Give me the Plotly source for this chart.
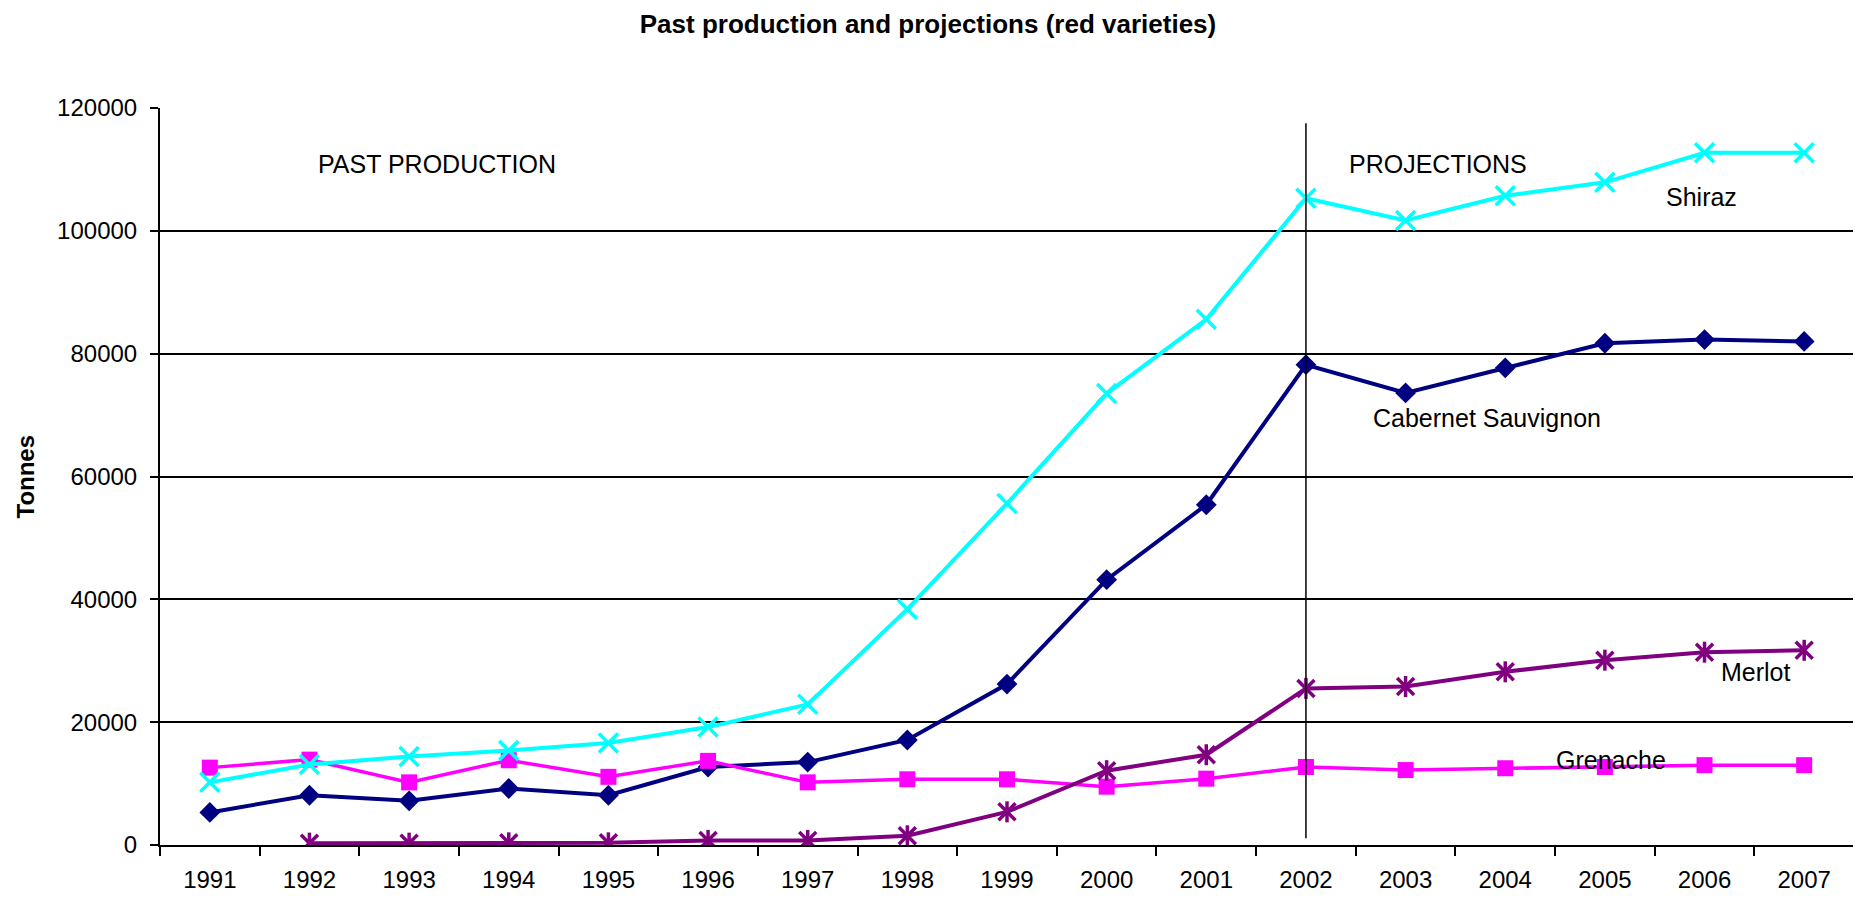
import plotly.graph_objects as go

years = ["1991", "1992", "1993", "1994", "1995", "1996", "1997", "1998", "1999",
         "2000", "2001", "2002", "2003", "2004", "2005", "2006", "2007"]
cabernet = [5300, 8100, 7200, 9200, 8100, 12700, 13500, 17100, 26200, 43200, 55400,
            78200, 73600, 77700, 81700, 82300, 82000]
grenache = [12600, 13900, 10200, 13800, 11100, 13700, 10200, 10700, 10700, 9500, 10800,
            12700, 12200, 12500, 12700, 13000, 13000]
merlot = [None, 300, 300, 350, 350, 750, 750, 1500, 5400, 12100, 14700,
          25500, 25800, 28200, 30100, 31400, 31700]
shiraz = [10200, 13100, 14400, 15400, 16600, 19200, 22900, 38400, 55600, 73500, 85600,
          105300, 101700, 105700, 107900, 112700, 112700]
y_ticks = [0, 20000, 40000, 60000, 80000, 100000, 120000]
projection_start = "2002"

FONT = "Liberation Sans, Arial, sans-serif"
OFF = 8  # default page body margin
W, H = 1861 - OFF, 900 - OFF
# plot area in screen pixels
SL, SR, ST, SB = 160, 1854, 108, 845
L, R, T, B = SL - OFF, SR - OFF, ST - OFF, SB - OFF

fig = go.Figure()
fig.add_trace(go.Scatter(x=years, y=cabernet, mode="lines+markers", name="Cabernet Sauvignon",
                         line=dict(color="#000080", width=4),
                         marker=dict(symbol="diamond", size=16, color="#000080")))
fig.add_trace(go.Scatter(x=years, y=grenache, mode="lines+markers", name="Grenache",
                         line=dict(color="#FF00FF", width=3.5),
                         marker=dict(symbol="square", size=16, color="#FF00FF")))
fig.add_trace(go.Scatter(x=years, y=merlot, mode="lines+markers", name="Merlot",
                         line=dict(color="#800080", width=4),
                         marker=dict(symbol="x-thin", size=17, color="#800080",
                                     line=dict(color="#800080", width=3.5))))
fig.add_trace(go.Scatter(x=years, y=merlot, mode="markers", name="Merlot", hoverinfo="skip",
                         marker=dict(symbol="line-ns", size=15, color="#800080",
                                     line=dict(color="#800080", width=3.5))))
fig.add_trace(go.Scatter(x=years, y=shiraz, mode="lines+markers", name="Shiraz",
                         line=dict(color="#00FFFF", width=4),
                         marker=dict(symbol="x-thin", size=19, color="#00FFFF",
                                     line=dict(color="#00FFFF", width=3.5))))

# divider between past production and projections (category index on the x axis)
pidx = years.index(projection_start)
fig.add_shape(type="line", xref="x", yref="y", x0=pidx, x1=pidx, y0=1100, y1=117500,
              line=dict(color="black", width=1.5))


def px(xs):
    return (xs - SL) / (SR - SL)


def py(ys):
    return (SB - ys) / (SB - ST)


labels = [
    ("PAST PRODUCTION", 437, 164),
    ("PROJECTIONS", 1438, 164),
    ("Shiraz", 1701, 197),
    ("Cabernet Sauvignon", 1487, 418),
    ("Merlot", 1756, 672),
    ("Grenache", 1611, 760),
]
for text, xx, yy in labels:
    fig.add_annotation(text=text, xref="paper", yref="paper", x=px(xx), y=py(yy),
                       xanchor="center", yanchor="middle", showarrow=False,
                       font=dict(family=FONT, size=25, color="black"))

fig.add_annotation(text="<b>Tonnes</b>", xref="paper", yref="paper", x=px(25), y=0.5,
                   xanchor="center", yanchor="middle", textangle=-90, showarrow=False,
                   font=dict(family=FONT, size=24, color="black"))

fig.update_layout(
    width=W, height=H,
    margin=dict(l=L, r=W - R, t=T, b=H - B, pad=0, autoexpand=False),
    paper_bgcolor="white", plot_bgcolor="white",
    showlegend=False,
    font=dict(family=FONT, size=24, color="black"),
    title=dict(text="<b>Past production and projections (red varieties)</b>",
               x=(928 - OFF) / W, xref="container", xanchor="center",
               y=1 - 16 / H, yref="container", yanchor="middle",
               font=dict(family=FONT, size=26, color="black")),
)
fig.update_xaxes(type="category", categoryorder="array", categoryarray=years,
                 range=[-0.5, len(years) - 0.5], automargin=False,
                 showline=True, linecolor="black", linewidth=2,
                 ticks="outside", tickson="boundaries", ticklen=9, tickwidth=2, tickcolor="black",
                 ticklabelstandoff=12,
                 showgrid=False, zeroline=False, tickangle=0,
                 tickfont=dict(family=FONT, size=24, color="black"))
fig.update_yaxes(range=[0, 120000], tickvals=y_ticks, ticktext=[str(v) for v in y_ticks],
                 automargin=False,
                 showline=True, linecolor="black", linewidth=2,
                 ticks="outside", ticklen=8, tickwidth=2, tickcolor="black",
                 ticklabelstandoff=8,
                 showgrid=True, gridcolor="black", gridwidth=1.5, zeroline=False,
                 tickfont=dict(family=FONT, size=24, color="black"))

fig.write_html("out.html")
